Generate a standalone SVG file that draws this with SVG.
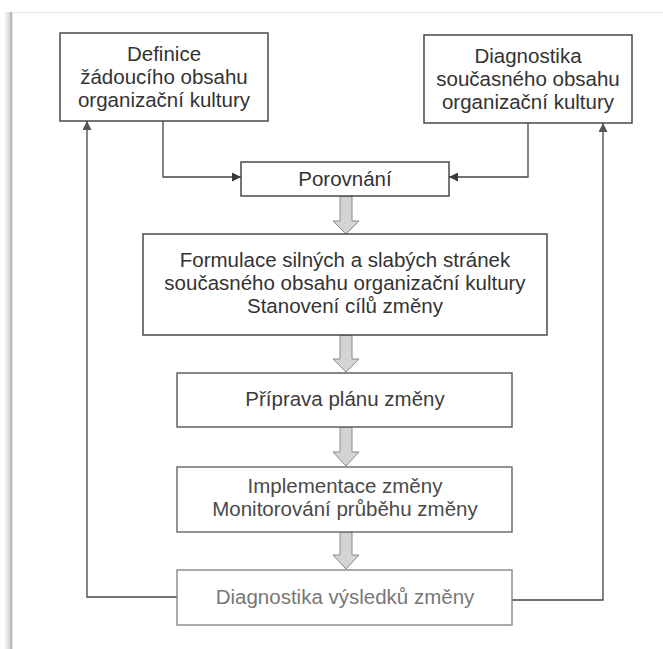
<svg xmlns="http://www.w3.org/2000/svg" width="663" height="649" viewBox="0 0 663 649">
<defs>
<marker id="ah" viewBox="0 0 10 10" refX="10" refY="5" markerWidth="10" markerHeight="9" markerUnits="userSpaceOnUse" orient="auto">
<path d="M0,0 L10,5 L0,10 Z" fill="#3a3a3a"/>
</marker>
<marker id="ahl" viewBox="0 0 10 10" refX="10" refY="5" markerWidth="10" markerHeight="9" markerUnits="userSpaceOnUse" orient="auto">
<path d="M0,0 L10,5 L0,10 Z" fill="#555"/>
</marker>
<linearGradient id="shadow" x1="0" x2="1" y1="0" y2="0">
<stop offset="0" stop-color="#ffffff"/>
<stop offset="0.6" stop-color="#dcdcdc"/>
<stop offset="1" stop-color="#b8b8b8"/>
</linearGradient>
</defs>
<style>
.box{fill:#fff;stroke:#3c3c3c;stroke-width:1.4}
.t{font-family:"Liberation Sans",Arial,sans-serif;font-size:20.5px;fill:#333;text-anchor:middle}
.ln{fill:none;stroke:#444;stroke-width:1.3}
.ha{fill:#d4d4d4;stroke:#8a8a8a;stroke-width:1}
</style>
<rect x="0" y="0" width="663" height="649" fill="#fff"/>
<rect x="4" y="12" width="8" height="637" fill="url(#shadow)"/>
<line x1="11.5" y1="12" x2="11.5" y2="649" stroke="#b0b0b0" stroke-width="1.5"/>
<line x1="12" y1="12.5" x2="663" y2="12.5" stroke="#ececec" stroke-width="1.5"/>

<g id="connectors">
<path class="ln" d="M163,121 V177 H241" marker-end="url(#ah)"/>
<path class="ln" d="M528,123 V177 H449" marker-end="url(#ah)"/>
<path class="ln" d="M177,597 H87 V121" stroke="#777" marker-end="url(#ahl)"/>
<path class="ln" d="M511,600 H603 V123" stroke="#777" marker-end="url(#ahl)"/>
<path class="ha" d="M340,196 V221 H333 L346,234 L359,221 H352 V196 Z"/>
<path class="ha" d="M340,335 V359 H333 L346,372 L359,359 H352 V335 Z"/>
<path class="ha" d="M340,427 V452 H333 L346,466 L359,452 H352 V427 Z"/>
<path class="ha" d="M340,532 V555 H333 L346,569 L359,555 H352 V532 Z"/>
</g>

<g id="n-definice">
<rect class="box" x="60" y="33" width="208" height="88"/>
<text class="t" x="164" y="61">Definice</text>
<text class="t" x="164" y="84">žádoucího obsahu</text>
<text class="t" x="164" y="107">organizační kultury</text>
</g>
<g id="n-diagnostika">
<rect class="box" x="424" y="35" width="208" height="88"/>
<text class="t" x="528" y="63">Diagnostika</text>
<text class="t" x="528" y="86">současného obsahu</text>
<text class="t" x="528" y="109">organizační kultury</text>
</g>
<g id="n-porovnani">
<rect class="box" x="241" y="162" width="208" height="34"/>
<text class="t" x="345" y="186">Porovnání</text>
</g>
<g id="n-formulace">
<rect class="box" x="143" y="234" width="404" height="101"/>
<text class="t" x="345" y="267">Formulace silných a slabých stránek</text>
<text class="t" x="345" y="290">současného obsahu organizační kultury</text>
<text class="t" x="345" y="313">Stanovení cílů změny</text>
</g>
<g id="n-priprava">
<rect class="box" x="177" y="373" width="335" height="54" style="stroke:#555"/>
<text class="t" x="345" y="406" style="fill:#3c3c3c">Příprava plánu změny</text>
</g>
<g id="n-implementace">
<rect class="box" x="177" y="467" width="335" height="65" style="stroke:#666"/>
<text class="t" x="345" y="493" style="fill:#4a4a4a">Implementace změny</text>
<text class="t" x="345" y="516" style="fill:#4a4a4a">Monitorování průběhu změny</text>
</g>
<g id="n-vysledky">
<rect class="box" x="177" y="570" width="335" height="55" style="stroke:#888"/>
<text class="t" x="345" y="604" style="fill:#777">Diagnostika výsledků změny</text>
</g>
</svg>
